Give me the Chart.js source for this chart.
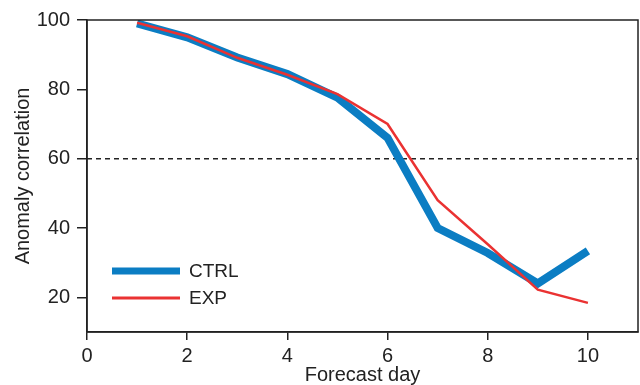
<!DOCTYPE html>
<html>
<head>
<meta charset="utf-8">
<script src="https://cdn.jsdelivr.net/npm/chart.js@4/dist/chart.umd.min.js"></script>
<style>
  html, body { margin: 0; padding: 0; background: #fff; }
  #wrap { width: 640px; height: 385px; }
</style>
</head>
<body>
<div id="wrap"><canvas id="acc-chart"></canvas></div>
<script>
    "use strict";

    const days = [1, 2, 3, 4, 5, 6, 7, 8, 9, 10];
    const ctrlValues = [99, 95, 89.2, 84.4, 77.6, 66, 40, 32.8, 24, 33.4];
    const expValues = [99.2, 95.3, 89.1, 84.2, 78.6, 70, 48, 35.3, 22.2, 18.4];
    const xTicks = [0, 2, 4, 6, 8, 10];
    const yTicks = [20, 40, 60, 80, 100];
    const refLevel = 60;

    const FONT = "'Liberation Sans', Arial, Helvetica, sans-serif";
    const BLUE = "#0b7dc3";
    const RED = "#ea3232";
    const INK = "#222222";

    function toPoints(values) {
        return days.map(function (d, i) { return { x: d, y: values[i] }; });
    }

    // frame, reference line and the in-plot legend
    const extras = {
        id: "extras",
        beforeDatasetsDraw: function (chart) {
            const c = chart.ctx;
            const a = chart.chartArea;
            const y = chart.scales.y.getPixelForValue(refLevel);
            c.save();
            c.strokeStyle = INK;
            c.lineWidth = 1.5;
            c.setLineDash([5, 4]);
            c.beginPath();
            c.moveTo(a.left, y);
            c.lineTo(a.right, y);
            c.stroke();
            c.restore();
        },
        afterDraw: function (chart) {
            const c = chart.ctx;
            const a = chart.chartArea;
            c.save();
            c.strokeStyle = INK;
            c.lineWidth = 1.5;
            c.strokeRect(a.left, a.top, a.right - a.left, a.bottom - a.top);

            const items = chart.data.datasets;
            const x0 = a.left + 25;
            const x1 = a.left + 93;
            let ly = a.top + 251;
            items.forEach(function (ds) {
                c.strokeStyle = ds.borderColor;
                c.lineWidth = ds.borderWidth === 8 ? 7 : 3;
                c.lineCap = "butt";
                c.beginPath();
                c.moveTo(x0, ly);
                c.lineTo(x1, ly);
                c.stroke();
                c.fillStyle = INK;
                c.font = "19px " + FONT;
                c.textBaseline = "middle";
                c.fillText(ds.label, x1 + 9, ly + 1);
                ly += 27;
            });
            c.restore();
        }
    };

    const ctx = document.getElementById("acc-chart").getContext("2d");
    new Chart(ctx, {
        type: "line",
        data: {
            datasets: [
                {
                    label: "CTRL",
                    data: toPoints(ctrlValues),
                    borderColor: BLUE,
                    borderWidth: 8,
                    pointRadius: 0,
                    fill: false,
                    tension: 0,
                    order: 1,
                },
                {
                    label: "EXP",
                    data: toPoints(expValues),
                    borderColor: RED,
                    borderWidth: 2.5,
                    pointRadius: 0,
                    fill: false,
                    tension: 0,
                    order: 0,
                },
            ],
        },
        options: {
            responsive: true,
            maintainAspectRatio: false,
            animation: false,
            layout: { padding: { left: 0, top: 20, right: 2, bottom: 0 } },
            plugins: {
                legend: { display: false },
                tooltip: { enabled: false },
            },
            scales: {
                x: {
                    type: "linear",
                    min: 0,
                    max: 11,
                    afterBuildTicks: function (scale) {
                        scale.ticks = xTicks.map(function (v) { return { value: v }; });
                    },
                    afterFit: function (scale) { scale.height = 53; },
                    ticks: {
                        color: INK,
                        font: { family: FONT, size: 20 },
                        padding: 4,
                        maxRotation: 0,
                    },
                    grid: {
                        drawOnChartArea: false,
                        drawTicks: true,
                        tickLength: 8,
                        color: INK,
                        lineWidth: 1.5,
                    },
                    border: { display: true, color: INK, width: 1.5 },
                    title: {
                        display: true,
                        text: "Forecast day",
                        color: INK,
                        font: { family: FONT, size: 20, lineHeight: 1 },
                        padding: { top: 0, bottom: 0 },
                    },
                },
                y: {
                    min: 10,
                    max: 100,
                    afterBuildTicks: function (scale) {
                        scale.ticks = yTicks.map(function (v) { return { value: v }; });
                    },
                    afterFit: function (scale) { scale.width = 87; },
                    ticks: {
                        color: INK,
                        font: { family: FONT, size: 20 },
                        padding: 7,
                    },
                    grid: {
                        drawOnChartArea: false,
                        drawTicks: true,
                        tickLength: 10,
                        color: INK,
                        lineWidth: 1.5,
                    },
                    border: { display: true, color: INK, width: 1.5 },
                    title: {
                        display: true,
                        text: "Anomaly correlation",
                        color: INK,
                        font: { family: FONT, size: 20 },
                        padding: { top: 11, bottom: 0 },
                    },
                },
            },
        },
        plugins: [extras],
    });
</script>
</body>
</html>
